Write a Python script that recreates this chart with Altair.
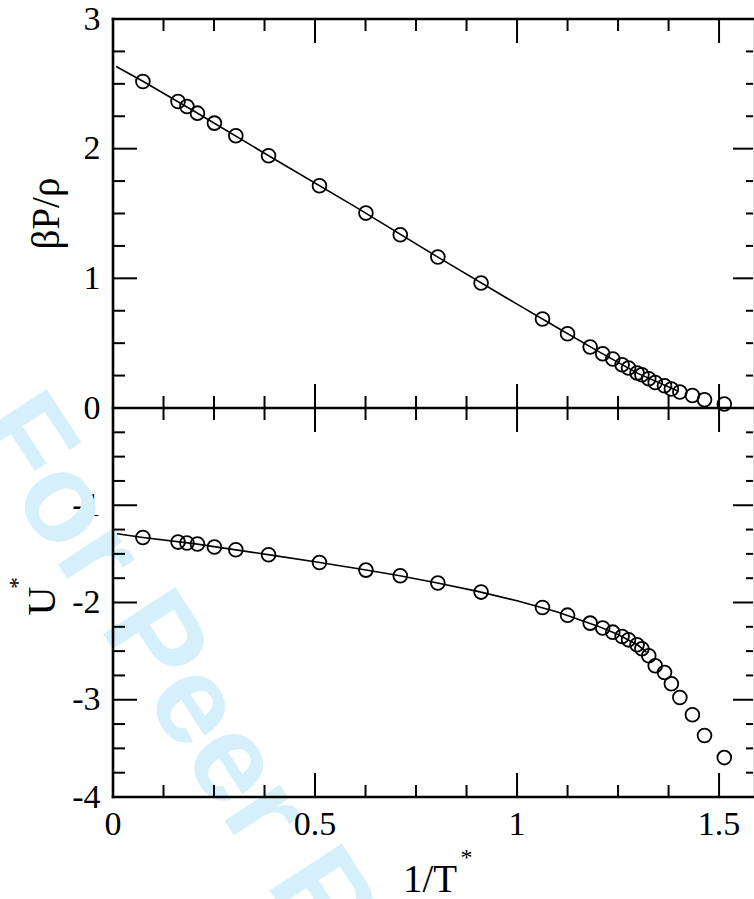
import altair as alt
import pandas as pd

# Simulation data: inverse reduced temperature vs. compressibility factor and energy
inv_T = [0.074, 0.161, 0.183, 0.209, 0.251, 0.304, 0.385, 0.511, 0.626, 0.711,
         0.804, 0.911, 1.063, 1.125, 1.181, 1.212, 1.237, 1.260, 1.276, 1.297,
         1.309, 1.326, 1.342, 1.365, 1.382, 1.403, 1.434, 1.464, 1.513]
pressure = [2.518, 2.364, 2.325, 2.274, 2.197, 2.099, 1.945, 1.714, 1.503, 1.336,
            1.164, 0.964, 0.686, 0.573, 0.470, 0.419, 0.378, 0.334, 0.308, 0.270,
            0.257, 0.226, 0.197, 0.172, 0.146, 0.123, 0.097, 0.064, 0.031]
energy = [-1.331, -1.379, -1.389, -1.399, -1.430, -1.458, -1.509, -1.588, -1.667, -1.725,
          -1.800, -1.893, -2.051, -2.130, -2.212, -2.263, -2.305, -2.350, -2.384, -2.435,
          -2.476, -2.548, -2.651, -2.720, -2.836, -2.977, -3.155, -3.368, -3.595]

# Equation-of-state curves
fit_p_x = [0.008, 0.074, 0.2, 0.4, 0.6, 0.8, 1.0, 1.1, 1.2, 1.3, 1.4]
fit_p_y = [2.634, 2.520, 2.290, 1.918, 1.551, 1.171, 0.801, 0.619, 0.439, 0.265, 0.130]
fit_u_x = [0.010, 0.074, 0.2, 0.3, 0.4, 0.5, 0.6, 0.7, 0.8, 0.9, 1.0, 1.1, 1.2, 1.25, 1.3, 1.32]
fit_u_y = [-1.293, -1.331, -1.395, -1.456, -1.518, -1.581, -1.647, -1.717, -1.797, -1.883,
           -1.983, -2.098, -2.243, -2.330, -2.440, -2.510]

# Tick positions and labels
x_major = [0.0, 0.5, 1.0, 1.5]
x_labels = ["0", "0.5", "1", "1.5"]
x_minor = [0.125, 0.25, 0.375, 0.625, 0.75, 0.875, 1.125, 1.25, 1.375]
top_major = [0, 1, 2, 3]
top_minor = [0.25, 0.5, 0.75, 1.25, 1.5, 1.75, 2.25, 2.5, 2.75]
bot_major = [-4, -3, -2, -1, 0]
bot_minor = [-3.75, -3.5, -3.25, -2.75, -2.5, -2.25, -1.75, -1.5, -1.25, -0.75, -0.5, -0.25]
top_labels = [0, 1, 2, 3]
bot_labels = [-4, -3, -2, -1]

W, H, MID = 640, 778, 389
MAJ, MIN = 24, 12
SERIF = "Liberation Serif"

xs = alt.Scale(domain=[0, 1.584], nice=False, zero=False)
ys_top = alt.Scale(domain=[0, 3], range=[MID, 0], nice=False, zero=False)
ys_bot = alt.Scale(domain=[-4, 0], range=[H, MID], nice=False, zero=False)

pts = pd.DataFrame({"x": inv_T, "p": pressure, "u": energy})
fit_p = pd.DataFrame({"x": fit_p_x, "y": fit_p_y})
fit_u = pd.DataFrame({"x": fit_u_x, "y": fit_u_y})


def xenc():
    return alt.X("t:Q", scale=xs, axis=None)


def tick_df(vals):
    return pd.DataFrame({"t": vals})


layers = []

# Watermark
layers.append(
    alt.Chart(pd.DataFrame({"label": ["For Peer Review"]}))
    .mark_text(font="Liberation Sans", fontWeight="bold", fontSize=125, color="#d5effb",
               angle=57, align="left", baseline="alphabetic")
    .encode(x=alt.value(-143), y=alt.value(410), text="label:N")
)

# Fitted curves
layers.append(
    alt.Chart(fit_p).mark_line(color="black", strokeWidth=1.6)
    .encode(x=alt.X("x:Q", scale=xs, axis=None), y=alt.Y("y:Q", scale=ys_top, axis=None))
)
layers.append(
    alt.Chart(fit_u).mark_line(color="black", strokeWidth=1.6)
    .encode(x=alt.X("x:Q", scale=xs, axis=None), y=alt.Y("y:Q", scale=ys_bot, axis=None))
)

# Open circles; these layers also carry the y tick-label axes
label_expr = "'' + datum.value"
point_style = dict(shape="circle", size=190, filled=False, color="black",
                   strokeWidth=1.8, opacity=1)
layers.append(
    alt.Chart(pts).mark_point(**point_style)
    .encode(
        x=alt.X("x:Q", scale=xs, axis=None),
        y=alt.Y("p:Q", scale=ys_top,
                axis=alt.Axis(values=top_labels, labelExpr=label_expr, title=None, orient="left",
                              ticks=False, tickSize=0, domain=False, grid=False,
                              labelFont=SERIF, labelFontSize=34, labelColor="black",
                              labelPadding=13, labelFlush=False)),
    )
)
layers.append(
    alt.Chart(pts).mark_point(**point_style)
    .encode(
        x=alt.X("x:Q", scale=xs, axis=None),
        y=alt.Y("u:Q", scale=ys_bot,
                axis=alt.Axis(values=bot_labels, labelExpr=label_expr, title=None, orient="left",
                              ticks=False, tickSize=0, domain=False, grid=False,
                              labelFont=SERIF, labelFontSize=34, labelColor="black",
                              labelPadding=13, labelFlush=False)),
    )
)

# x tick labels
layers.append(
    alt.Chart(pd.DataFrame({"t": x_major, "s": x_labels}))
    .mark_text(font=SERIF, fontSize=34, color="black", align="center", baseline="top")
    .encode(x=xenc(), y=alt.value(H + 11), text="s:N")
)

# Frame lines: top, middle, bottom, left
for enc in [
    dict(x=alt.value(0), x2=alt.value(W), y=alt.value(0)),
    dict(x=alt.value(0), x2=alt.value(W), y=alt.value(MID)),
    dict(x=alt.value(0), x2=alt.value(W), y=alt.value(H)),
    dict(x=alt.value(0), y=alt.value(0), y2=alt.value(H)),
]:
    layers.append(
        alt.Chart(tick_df([0])).mark_rule(color="black", strokeWidth=2.6, strokeCap="square").encode(**enc)
    )

# Ticks on the horizontal edges (pointing inward, crossing the middle line)
for vals, ln in [(x_major, MAJ), (x_minor, MIN)]:
    for y0, y1 in [(0, ln), (MID - ln, MID + ln), (H - ln, H)]:
        layers.append(
            alt.Chart(tick_df(vals)).mark_rule(color="black", strokeWidth=2)
            .encode(x=xenc(), y=alt.value(y0), y2=alt.value(y1))
        )

# Ticks on the vertical edges
for vals, scale in [(top_major, ys_top), (bot_major, ys_bot)]:
    for x0, x1 in [(0, MAJ), (W - 20, W)]:
        layers.append(
            alt.Chart(tick_df(vals)).mark_rule(color="black", strokeWidth=2)
            .encode(y=alt.Y("t:Q", scale=scale, axis=None), x=alt.value(x0), x2=alt.value(x1))
        )
for vals, scale in [(top_minor, ys_top), (bot_minor, ys_bot)]:
    for x0, x1 in [(0, MIN), (W - 7, W)]:
        layers.append(
            alt.Chart(tick_df(vals)).mark_rule(color="black", strokeWidth=2)
            .encode(y=alt.Y("t:Q", scale=scale, axis=None), x=alt.value(x0), x2=alt.value(x1))
        )


# Axis titles
def label(text, x, y, size, angle=0, baseline="middle"):
    return (
        alt.Chart(pd.DataFrame({"s": [text]}))
        .mark_text(font=SERIF, fontSize=size, color="black", align="center",
                   baseline=baseline, angle=angle)
        .encode(x=alt.value(x), y=alt.value(y), text="s:N")
    )


layers += [
    label("βP/ρ", -66, 194.5, 39, angle=270),
    label("U", -70.5, 582, 40, angle=270),
    label("*", -95.5, 564, 24, angle=270),
    label("1/T", 317, 873, 39, baseline="alphabetic"),
    label("*", 353.5, 839, 24),
]

chart = (
    alt.layer(*layers)
    .resolve_scale(y="independent")
    .properties(width=W, height=H, autosize=alt.AutoSizeParams(type="none"),
                padding={"left": 113, "top": 19, "right": 1, "bottom": 102})
    .configure_view(stroke=None)
    .configure(background="white")
)

chart.save("out.html", embed_options={"renderer": "svg", "actions": False})
